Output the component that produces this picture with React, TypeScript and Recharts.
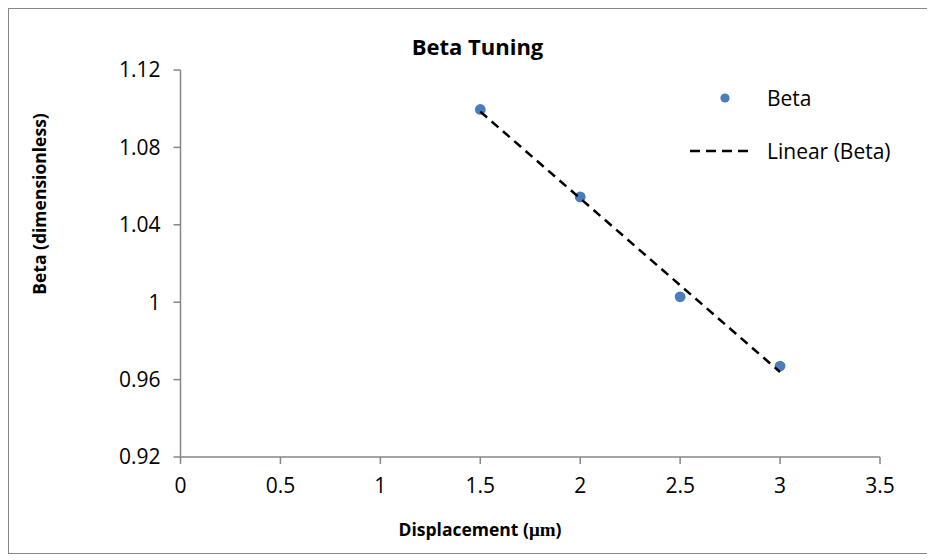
import React from 'react';
import { ScatterChart, Scatter, XAxis, YAxis, Customized } from 'recharts';

const xValues = [1.5, 2, 2.5, 3];
const betaValues = [1.0996, 1.0544, 1.0028, 0.967];
const trendX = [1.5, 3];
const trendY = [1.0985, 0.9639];
const xTicks = [0, 0.5, 1, 1.5, 2, 2.5, 3, 3.5];
const yTicks = [0.92, 0.96, 1, 1.04, 1.08, 1.12];
const seriesNames = ['Beta', 'Linear (Beta)'];

const betaData = xValues.map((x, i) => ({ x, y: betaValues[i] }));
const trendData = trendX.map((x, i) => ({ x, y: trendY[i] }));

const W = 922;
const H = 546;
const AXIS = '#868686';
const BLUE = '#4a7ebb';
const FONT = "'Open Sans', 'Noto Sans', sans-serif";

const Dot = (props: any) => {
  const { cx, cy } = props;
  if (cx == null || cy == null) return <g />;
  return <circle cx={cx} cy={cy} r={5.4} fill={BLUE} />;
};

const NoShape = () => <g />;

const Texts = () => (
  <g fontFamily={FONT}>
    <text x={469.5} y={38} textAnchor="middle" dominantBaseline="central" fontSize={22} fontWeight="bold" fill="#000">
      Beta Tuning
    </text>
    <text x={472} y={521} textAnchor="middle" dominantBaseline="central" fontSize={17.5} fontWeight="bold" fill="#000">
      Displacement (<tspan fontFamily="'Liberation Serif', 'DejaVu Serif', serif" fontSize={19}>μm</tspan>)
    </text>
    <text
      x={31}
      y={196}
      textAnchor="middle"
      dominantBaseline="central"
      fontSize={17.5}
      fontWeight="bold"
      fill="#000"
      transform="rotate(-90 31 196)"
    >
      Beta (dimensionless)
    </text>
    <g transform="translate(672,65)">
      <circle cx={45} cy={25} r={4.6} fill={BLUE} />
      <text x={87} y={25} dominantBaseline="central" fontSize={21} fill="#000">
        {seriesNames[0]}
      </text>
      <line x1={10} y1={78} x2={72} y2={78} stroke="#000" strokeWidth={2.5} strokeDasharray="10 6" />
      <text x={87} y={78} dominantBaseline="central" fontSize={21} fill="#000">
        {seriesNames[1]}
      </text>
    </g>
  </g>
);

export default function App() {
  return (
    <div style={{ position: 'relative', width: W, height: H }}>
      <ScatterChart
        width={W}
        height={H}
        margin={{ top: 62, right: 50, bottom: 67, left: 112.5 }}
        style={{ fontFamily: FONT }}
      >
        <XAxis
          type="number"
          dataKey="x"
          domain={[0, 3.5]}
          ticks={xTicks}
          interval={0}
          height={30}
          axisLine={{ stroke: AXIS, strokeWidth: 1.5 }}
          tickLine={{ stroke: AXIS, strokeWidth: 1.5 }}
          tickSize={7}
          tickMargin={14}
          tick={{ fill: '#000', fontSize: 21, fontFamily: FONT }}
          allowDataOverflow
        />
        <YAxis
          type="number"
          dataKey="y"
          domain={[0.92, 1.12]}
          ticks={yTicks}
          interval={0}
          width={60}
          axisLine={{ stroke: AXIS, strokeWidth: 1.5 }}
          tickLine={{ stroke: AXIS, strokeWidth: 1.5 }}
          tickSize={7}
          tickMargin={13}
          tick={{ fill: '#000', fontSize: 21, fontFamily: FONT }}
          allowDataOverflow
        />
        <Scatter name={seriesNames[0]} data={betaData} shape={Dot} isAnimationActive={false} />
        <Scatter
          name={seriesNames[1]}
          data={trendData}
          shape={NoShape}
          line={{ stroke: '#000', strokeWidth: 2.5, strokeDasharray: '9 6' }}
          lineType="joint"
          isAnimationActive={false}
        />
        <Customized component={Texts} />
      </ScatterChart>
      <div
        style={{
          position: 'absolute',
          left: 0,
          top: 0,
          width: W,
          height: H,
          border: `1.5px solid ${AXIS}`,
          boxSizing: 'border-box',
          pointerEvents: 'none',
        }}
      />
    </div>
  );
}
